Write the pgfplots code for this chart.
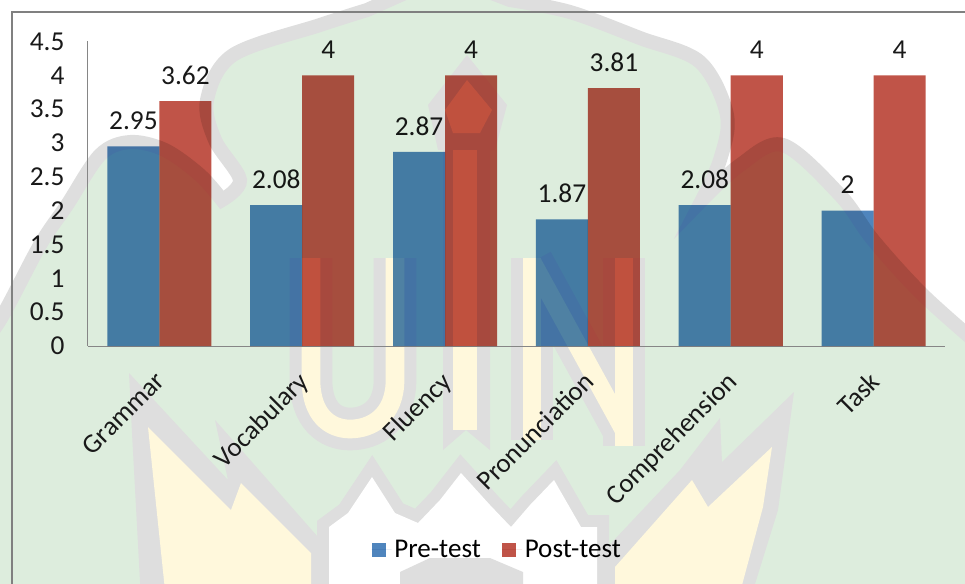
\documentclass[border=0pt]{standalone}
\usepackage{pgfplots}
\pgfplotsset{compat=1.18}
\usepackage{fontspec}
\setmainfont{Carlito}
\definecolor{wmgreen}{HTML}{DDEDDD}
\definecolor{wmgray}{HTML}{DEDEDE}
\definecolor{wmyellow}{HTML}{FFF8DC}
\definecolor{barblue}{HTML}{4F85BD}
\definecolor{barred}{HTML}{C05448}
\definecolor{axisgray}{HTML}{868686}
\begin{document}
\begin{tikzpicture}
\useasboundingbox (0,0) rectangle (723.75pt,-437.25pt);
\begin{scope}[x=0.75pt,y=-0.75pt]
\clip (0,0) rectangle (965,583);
% watermark
\draw[wmgray,fill=wmgreen,line width=10.5pt,line join=miter]
  plot[smooth,tension=0.55] coordinates {(-30,360)(0,320)(40,245)(67,205)(100,155)(130,142)(165,150)(200,175)(222,200)}
  -- plot[smooth,tension=0.55] coordinates {(222,200)(240,180)(215,140)(207,100)(233,55)(320,25)(367,10)}
  -- (445,-25) -- (510,0)
  -- plot[smooth,tension=0.55] coordinates {(510,0)(570,12)(640,38)(700,62)(727,115)(720,160)(702,200)}
  -- plot[smooth,tension=0.55] coordinates {(702,200)(740,165)(783,145)(840,195)(873,240)(923,295)(985,350)}
  -- (985,600) -- (-30,600) -- cycle;
% letters: gray outline then yellow core
\foreach \cc/\ww in {wmgray/32,wmyellow/14}{
  \draw[\cc,line width=\ww pt,line cap=butt,line join=miter,miter limit=6]
    (311,258) -- (311,380) .. controls (311,415) and (330,429) .. (350,429) .. controls (372,429) and (395,415) .. (395,380) -- (395,258);
  \draw[\cc,line width=\ww pt,line cap=butt,line join=miter,miter limit=6]
    (532,258) -- (532,440);
  \draw[\cc,line width=\ww pt,line cap=butt,line join=miter,miter limit=6]
    (532,262) -- (624,430);
  \draw[\cc,line width=\ww pt,line cap=butt,line join=miter,miter limit=6]
    (624,258) -- (624,446);
}
% minaret
\fill[wmgray] (443,145) -- (490,145) -- (490,450) -- (466,430) -- (443,450) -- cycle;
\fill[wmgray] (467,55) -- (507,105) -- (495,150) -- (438,150) -- (428,105) -- cycle;
\fill[wmyellow] (453,150) rectangle (477,430);
\fill[wmyellow] (467,80) -- (492,110) -- (480,133) -- (453,133) -- (445,110) -- cycle;
% lower fans
\fill[wmgray] (129,373) -- (228,480) -- (215,420) -- (325,545) -- (325,600) -- (141,600) -- (132,433) -- cycle;
\fill[wmyellow] (148,427) -- (231,510) -- (241,483) -- (311,553) -- (311,600) -- (166,600) -- cycle;
\fill[wmgray] (794,392) -- (778,510) -- (750,600) -- (600,600) -- (600,555) -- (680,470) -- (720,418) -- (722,462) -- cycle;
\fill[wmyellow] (772,447) -- (763,507) -- (738,600) -- (615,600) -- (615,567) -- (692,480) -- (708,507) -- cycle;
% white petals
\draw[wmgray,line width=18pt,line join=miter,miter limit=3,fill=white]
  (329,600) -- (329,527) -- (348,513) -- (372,477) -- (395,513) -- (418,523) -- (440,500) -- (461,473) -- (490,505) -- (511,527) -- (530,505) -- (554,480) -- (581,527) -- (597,527) -- (597,600) -- cycle;
\fill[white]
  (329,600) -- (329,527) -- (348,513) -- (372,477) -- (395,513) -- (418,523) -- (440,500) -- (461,473) -- (490,505) -- (511,527) -- (530,505) -- (554,480) -- (581,527) -- (597,527) -- (597,600) -- cycle;
\fill[wmgray] (400,600) -- (400,572) -- (430,558) -- (490,558) -- (523,572) -- (523,600) -- cycle;
% frame
\draw[color=black!50,line width=1.2pt] (12,590) -- (12,12) -- (975,12);
\end{scope}
\begin{axis}[
  at={(66pt,-259.5pt)},anchor=south west,
  scale only axis,width=642.75pt,height=228.4pt,
  ybar=0pt,bar width=39pt,
  xmin=-0.5,xmax=5.5,ymin=0,ymax=4.5,
  xtick={0,1,2,3,4,5},
  xticklabels={Grammar,Vocabulary,Fluency,Pronunciation,Comprehension,Task},
  ytick={0,0.5,1,1.5,2,2.5,3,3.5,4,4.5},
  yticklabels={0,0.5,1,1.5,2,2.5,3,3.5,4,4.5},
  major tick length=0pt,
  axis x line*=bottom,axis y line*=left,
  axis line style={color=axisgray,line width=0.75pt,-},
  clip=false,
  tick label style={font=\fontsize{20.5}{22}\selectfont,color=black!90},
  yticklabel style={anchor=east,inner sep=0pt,xshift=-17.5pt},
  xticklabel style={rotate=45,anchor=north east,inner sep=0pt,xshift=-15.4pt,yshift=-9.8pt,font=\fontsize{20.2}{22}\selectfont},
  nodes near coords,
  every node near coord/.append style={anchor=center,yshift=19.5pt,inner sep=0pt,
    font=\fontsize{20.5}{22}\selectfont,color=black!90},
  /pgf/number format/precision=2,
  /pgf/number format/assume math mode=true,
  legend style={at={(0.478,-0.669)},anchor=center,draw=none,fill=none,
    legend columns=2,font=\fontsize{20.3}{22}\selectfont,
    /tikz/every even column/.append style={column sep=14pt},
    legend cell align=left},
]
\addplot[fill=barblue,draw=none,blend mode=multiply,
  legend image code/.code={\fill[barblue] (0pt,-5.25pt) rectangle (10.5pt,5.25pt);\path (0pt,0pt) -- (15pt,0pt);}]
  coordinates {(0,2.95)(1,2.08)(2,2.87)(3,1.87)(4,2.08)(5,2)};
\addlegendentry{Pre-test}
\addplot[fill=barred,draw=none,blend mode=multiply,
  legend image code/.code={\fill[barred] (0pt,-5.25pt) rectangle (10.5pt,5.25pt);\path (0pt,0pt) -- (15pt,0pt);}]
  coordinates {(0,3.62)(1,4)(2,4)(3,3.81)(4,4)(5,4)};
\addlegendentry{Post-test}
\end{axis}
\end{tikzpicture}
\end{document}
